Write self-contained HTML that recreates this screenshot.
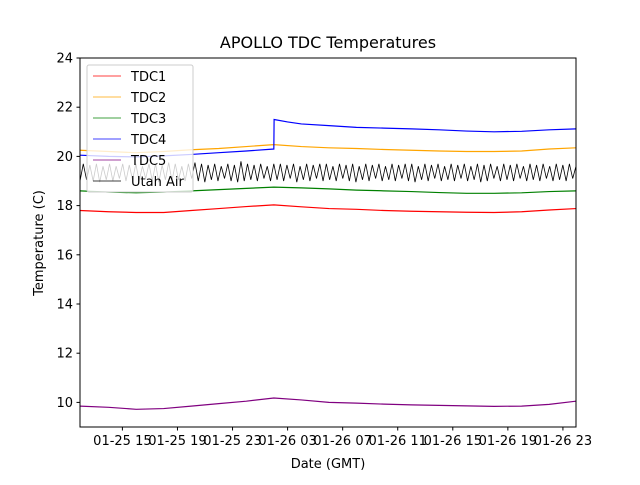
<!DOCTYPE html>
<html><head><meta charset="utf-8"><style>
body{margin:0;background:#fff}
svg text{font-family:"DejaVu Sans","Liberation Sans",sans-serif;fill:#000}
</style></head><body>
<svg id="chart" width="640" height="480" xmlns="http://www.w3.org/2000/svg">
<rect width="640" height="480" fill="#fff"/>
<text x="328" y="48" font-size="16" text-anchor="middle">APOLLO TDC Temperatures</text>
<g id="plot"></g>
<g id="axes"></g>
<text x="328" y="468" font-size="13" text-anchor="middle">Date (GMT)</text>
<text x="43" y="243" font-size="13" text-anchor="middle" transform="rotate(-90 43 243)">Temperature (C)</text>
</svg>
<script>
// hours since 01-25 00:00
const xTickHours=[15,19,23,27,31,35,39,43,47];
const xTickLabels=["01-25 15","01-25 19","01-25 23","01-26 03","01-26 07","01-26 11","01-26 15","01-26 19","01-26 23"];
const yTicks=[10,12,14,16,18,20,22,24];
const seriesNames=["TDC1","TDC2","TDC3","TDC4","TDC5","Utah Air"];
const seriesColors=["#ff0000","#ffa500","#008000","#0000ff","#800080","#000000"];
const baseHours=[11.92,14,16,18,20,22,24,26,28,30,32,34,36,38,40,42,44,46,47.95];
const tdc1=[17.8,17.75,17.72,17.72,17.8,17.88,17.96,18.03,17.95,17.88,17.85,17.8,17.77,17.75,17.73,17.72,17.75,17.82,17.88];
const tdc2=[20.25,20.2,20.15,20.2,20.27,20.32,20.4,20.48,20.4,20.35,20.32,20.28,20.25,20.22,20.2,20.2,20.22,20.3,20.35];
const tdc3=[18.6,18.55,18.52,18.55,18.6,18.65,18.7,18.75,18.72,18.68,18.63,18.6,18.57,18.53,18.5,18.5,18.52,18.57,18.6];
const tdc4Hours=[11.92,14,16,18,20,22,24,26.0,26.02,27,28,30,32,34,36,38,40,42,44,46,47.95];
const tdc4=[20.05,20.0,19.98,20.02,20.08,20.15,20.22,20.3,21.5,21.4,21.32,21.25,21.18,21.15,21.12,21.08,21.03,21.0,21.02,21.08,21.12];
const tdc5=[9.85,9.8,9.72,9.75,9.85,9.95,10.05,10.18,10.1,10.0,9.97,9.93,9.9,9.88,9.86,9.84,9.85,9.92,10.05];
const utahStart=11.92;
const utahStep=0.2386;
const utahAir=[19.0,19.7,19.05,19.65,19.0,19.7,18.95,19.6,19.05,19.7,19.0,19.6,19.1,19.7,19.0,19.65,19.05,19.7,19.0,19.6,
19.1,19.7,19.0,19.7,18.95,19.65,19.05,19.75,19.0,19.7,19.05,19.6,19.0,19.7,19.1,19.75,19.0,19.7,18.95,19.65,
19.05,19.7,19.0,19.6,19.1,19.7,19.0,19.65,18.95,19.8,19.0,19.7,19.05,19.65,19.0,19.7,19.1,19.6,19.0,19.7,
19.05,19.7,19.0,19.65,19.1,19.7,18.95,19.6,19.05,19.7,19.0,19.65,19.1,19.7,19.0,19.7,19.05,19.6,19.0,19.7,
19.1,19.65,19.0,19.7,18.95,19.6,19.05,19.7,19.0,19.65,19.1,19.7,19.0,19.6,19.05,19.7,19.0,19.65,19.1,19.7,
19.0,19.7,18.95,19.6,19.05,19.7,19.0,19.65,19.1,19.7,19.0,19.6,19.05,19.7,19.0,19.65,19.1,19.7,19.0,19.6,
19.05,19.7,18.95,19.65,19.0,19.7,19.1,19.6,19.0,19.7,19.05,19.65,19.0,19.7,19.1,19.6,19.0,19.7,19.05,19.65,
19.0,19.7,19.1,19.6,19.0,19.7,19.05,19.65,19.0,19.7,19.1,19.6];

const L=80,R=576,T=58,B=427, XMIN=11.92, XMAX=47.95, YMIN=9, YMAX=24;
const sx=h=>L+(h-XMIN)/(XMAX-XMIN)*(R-L);
const sy=v=>B-(v-YMIN)/(YMAX-YMIN)*(B-T);
const NS="http://www.w3.org/2000/svg";
const plot=document.getElementById('plot'), axes=document.getElementById('axes');
function mk(tag,attrs,parent){const e=document.createElementNS(NS,tag);for(const k in attrs)e.setAttribute(k,attrs[k]);parent.appendChild(e);return e;}

const clip=mk('clipPath',{id:'pc'},plot);mk('rect',{x:L,y:T,width:R-L,height:B-T},clip);
const lines=mk('g',{'clip-path':'url(#pc)'},plot);
function drawLine(hours,vals,color,name,w){
  const d=vals.map((v,i)=>(i?'L':'M')+sx(hours[i]).toFixed(2)+' '+sy(v).toFixed(2)).join(' ');
  const p=mk('path',{d:d,fill:'none',stroke:color,'stroke-width':w},lines);
  
  
}
const utahHours=utahAir.map((v,i)=>utahStart+i*utahStep);
drawLine(utahHours,utahAir,seriesColors[5],'utah-air-line',0.8);
drawLine(baseHours,tdc1,seriesColors[0],'tdc1-line',1.2);
drawLine(baseHours,tdc2,seriesColors[1],'tdc2-line',1.2);
drawLine(baseHours,tdc3,seriesColors[2],'tdc3-line',1.2);
drawLine(tdc4Hours,tdc4,seriesColors[3],'tdc4-line',1.2);
drawLine(baseHours,tdc5,seriesColors[4],'tdc5-line',1.2);

const frame=mk('rect',{x:L,y:T,width:R-L,height:B-T,fill:'none',stroke:'#000','stroke-width':1},axes);


yTicks.forEach(v=>{
  const y=sy(v);
  mk('line',{x1:L-3.5,x2:L,y1:y,y2:y,stroke:'#000'},axes);
  const t=mk('text',{x:L-7,y:y+4.5,'font-size':13,'text-anchor':'end'},axes);t.textContent=v;
  
  
});
xTickHours.forEach((h,i)=>{
  const x=sx(h);
  mk('line',{x1:x,x2:x,y1:B,y2:B+3.5,stroke:'#000'},axes);
  const t=mk('text',{x:x,y:B+18,'font-size':13,'text-anchor':'middle'},axes);t.textContent=xTickLabels[i];
  
  
});

// legend
const lg=mk('g',{},axes);


mk('rect',{x:87,y:65,width:106,height:127,rx:2,fill:'#fff','fill-opacity':0.8,stroke:'#ccc','stroke-width':1},lg);
seriesNames.forEach((n,i)=>{
  const y=76+i*21;
  const g=mk('g',{},lg);
  
  
  mk('line',{x1:93,x2:121,y1:y,y2:y,stroke:seriesColors[i],'stroke-width':0.8},g);
  const t=mk('text',{x:131,y:y+5,'font-size':13},g);t.textContent=n;
});
</script>
</body></html>
